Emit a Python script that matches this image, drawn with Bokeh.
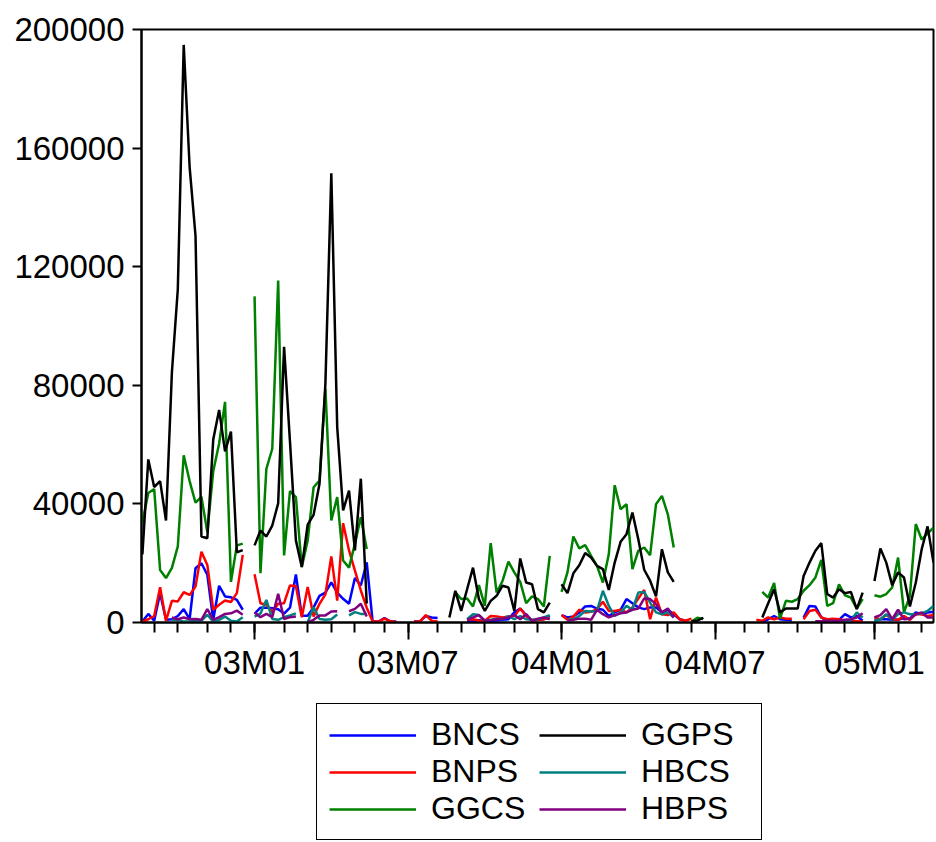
import numpy as np
import pandas as pd
from bokeh.plotting import figure
from bokeh.layouts import column
from bokeh.models import Range1d, FixedTicker, Legend, LegendItem, BasicTickFormatter
from bokeh.embed import file_html
from bokeh.resources import INLINE

# weekly observations (values in thousands), None = missing week
FIRST_WEEK = "2002-08-22"
N_WEEKS = 135
NA = None

BNCS = [0.3, 2.9, 0.6, 9.9, 0.9, 1.1, 2.2, 4.5, 1.1, 18.3, 20.0, 16.1, 0.9, 12.4, 8.8, 8.5, 7.6, 4.3,
        NA,
        3.0, 5.0, 5.0, 4.8, 4.5, 3.0, 5.0, 16.2, 2.3, 2.3, 5.1, 9.0, 10.1, 13.5, 10.1, 8.0, 6.3, 15.0, 12.5, 20.3,
        0.3, 0.3, 1.5, 0.4, 0.3,
        NA, NA,
        0.3, 0.4, 2.2, 1.7, 1.5,
        NA, NA, NA, NA,
        0.6, 0.4, 0.8, 0.6, 0.6, 0.7, 0.9, 1.1, 3.4, 4.7, 2.5, 0.6, 0.9, 1.1, 2.2,
        NA,
        2.5, 1.7, 2.0, 3.4, 5.4, 5.6, 4.7, 4.3, 2.2, 3.4, 4.3, 7.9, 6.5, 5.1, 4.5, 5.1, 5.1, 3.4, 4.3, 2.8, 1.1, 0.6,
        NA, NA, NA, NA, NA, NA, NA, NA, NA, NA, NA, NA,
        0.2, 1.1, 2.2, 1.1, 0.9, 0.7,
        NA,
        1.7, 5.6, 5.4, 1.7, 0.6, 1.1, 0.9, 2.8, 1.7, 2.2, 0.6,
        NA,
        0.6, 1.1, 1.1, 0.9, 0.9, 1.5, 1.3, 3.4, 2.8, 3.4, 3.6]

BNPS = [0.3, 1.1, 2.2, 11.9, 0.6, 7.3, 7.1, 10.2, 9.3, 12.1, 23.9, 19.4, 4.3, 6.0, 7.4, 6.9, 9.9, 22.8,
        NA,
        16.3, 6.5, 6.0, 3.5, 6.3, 6.5, 12.5, 12.3, 1.8, 12.0, 2.0, 6.3, 9.5, 22.3, 7.4, 33.5, 24.3, 17.5, 10.8, 5.0,
        0.3, 0.3, 1.3, 0.4, 0.2,
        NA, NA,
        0.3, 0.3, 2.5, 0.6, 0.3,
        NA, NA, NA, NA,
        0.9, 1.1, 0.7, 0.6, 2.2, 2.0, 1.7, 2.0, 2.2, 4.7, 2.2, 0.6, 0.8, 1.1, 1.7,
        NA,
        2.5, 0.9, 2.0, 4.3, 3.4, 3.6, 4.5, 7.0, 3.9, 3.9, 4.3, 3.4, 5.1, 8.1, 11.0, 1.1, 8.4, 2.8, 2.5, 3.4, 1.1, 0.6, 1.3,
        NA, NA, NA, NA, NA, NA, NA, NA, NA, NA,
        0.9, 0.6, 1.7, 1.1, 1.7, 1.3, 1.3,
        NA,
        1.1, 3.9, 4.3, 1.7, 1.1, 1.3, 1.1, 0.6, 0.4, 0.4, 0.3,
        NA,
        1.7, 1.1, 2.5, 1.1, 0.9, 2.2, 0.9, 2.8, 2.8, 2.2, 2.5]

GGCS = [33.7, 43.7, 45.0, 17.7, 15.0, 18.4, 25.7, 56.4, 47.7, 40.4, 42.4, 30.4, 51.0, 60.4, 74.4, 13.7, 26.0, 26.6,
        NA,
        110.0, 16.6, 51.8, 58.6, 115.3, 22.6, 44.3, 42.3, 18.7, 27.7, 45.6, 47.9, 78.9, 34.4, 42.3, 20.9, 18.5, 26.6, 35.5, 24.8,
        NA, NA, NA, NA, NA, NA, NA, NA, NA, NA, NA, NA, NA, NA,
        10.3, 7.9, 8.1, 5.4, 12.6, 5.6, 26.8, 10.1, 14.0, 20.5, 16.9, 13.7, 6.5, 8.8, 7.9, 5.4, 22.5,
        NA,
        10.3, 16.9, 29.0, 25.0, 26.1, 22.5, 19.1, 13.5, 23.0, 46.3, 38.2, 39.9, 18.0, 24.2, 25.3, 22.7, 39.9, 42.7, 36.5, 25.3,
        NA, NA,
        0.3, 1.6, 1.2,
        NA, NA, NA, NA, NA, NA, NA, NA, NA,
        10.3, 8.4, 13.3, 1.3, 7.3, 7.0, 7.9, 10.7, 12.6, 15.2, 21.1, 5.6, 6.5, 12.9, 9.2, 8.4, 4.7, 7.9,
        NA,
        9.2, 8.7, 9.6, 11.8, 21.9, 3.4, 9.0, 33.2, 28.0, 30.0, 32.0]

GGPS = [23.0, 55.0, 45.7, 47.7, 34.4, 84.4, 112.4, 194.8, 153.7, 130.4, 29.0, 28.4, 61.7, 71.7, 57.7, 64.4, 23.7, 24.4,
        NA,
        26.0, 31.0, 29.0, 32.7, 40.2, 93.0, 61.0, 27.7, 18.7, 33.0, 36.3, 46.8, 80.6, 151.5, 65.9, 37.8, 44.5, 24.3, 48.5, 6.4,
        NA, NA, NA, NA, NA, NA, NA, NA, NA, NA, NA, NA, NA,
        1.7, 10.7, 3.9, 11.2, 18.5, 7.9, 3.9, 7.3, 9.0, 12.4, 11.8, 3.9, 21.6, 13.5, 12.9, 4.5, 3.4, 6.7,
        NA,
        12.9, 9.9, 16.6, 19.3, 23.4, 21.9, 19.1, 18.0, 11.0, 20.2, 27.2, 29.8, 37.1, 28.1, 17.8, 14.1, 8.8, 24.7, 16.9, 13.7,
        NA, NA,
        0.3, 0.6, 1.6,
        NA, NA, NA, NA, NA, NA, NA, NA, NA,
        1.7, 6.5, 11.2, 3.4, 4.7, 4.7, 4.7, 15.7, 20.2, 24.2, 26.8, 9.6, 8.4, 11.2, 9.9, 10.3, 4.5, 10.1,
        NA,
        14.0, 25.0, 20.2, 12.6, 16.9, 15.2, 5.4, 13.5, 24.7, 32.4, 20.2]

HBCS = [NA, NA, NA, NA, NA,
        0.9, 0.9, 0.3, 0.3, 0.6, 0.6, 2.6, 0.3, 0.9, 2.0, 0.6, 0.3, 1.8,
        NA,
        2.0, 3.0, 7.6, 1.2, 0.9, 1.8, 2.4, 3.1, NA, 0.1, 5.2, 1.2, 0.9, 1.1, 2.7, NA, 2.4, 3.5, 2.9, 2.9,
        NA, NA, NA, NA, NA, NA, NA, NA, NA, NA, NA, NA, NA, NA, NA, NA,
        1.1, 2.8, 2.5, 0.6, 0.9, 1.3, 1.1, 2.2, 1.1, 2.2, 1.1, 0.9, 1.1, 1.7, 2.5,
        NA, NA,
        0.9, 1.1, 2.2, 3.9, 3.7, 3.9, 10.7, 5.6, 2.2, 3.4, 5.6, 4.3, 10.1, 10.3, 6.7, 3.4, 2.8, 3.4, 1.7,
        NA, NA, NA, NA, NA, NA, NA, NA, NA, NA, NA, NA, NA, NA, NA, NA, NA, NA, NA, NA, NA, NA, NA,
        0.3, 0.3, 0.4, 0.4, 0.4, 0.6, 0.6, 3.4, 1.7,
        NA,
        0.6, 1.1, 2.8, 0.9, 2.8, 3.4, 2.8, 2.8, 3.1, 3.9, 5.6]

HBPS = [NA, NA, NA, NA, NA,
        1.7, 1.1, 1.7, 1.1, 1.2, 0.9, 4.5, 0.9, 1.8, 2.9, 3.1, 4.0, 2.6,
        NA,
        3.4, 1.8, 2.9, 1.8, 9.7, 1.2, 1.8, 2.0, NA, 0.1, 0.9, 2.4, 2.4, 3.7, 3.8, NA, 3.8, 4.6, 6.3, 2.0,
        NA, NA, NA, NA, NA, NA, NA, NA, NA, NA, NA, NA, NA, NA, NA, NA,
        0.9, 1.7, 2.5, 0.6, 0.8, 1.1, 1.3, 1.7, 2.5, 1.1, 2.8, 0.6, 1.3, 1.7, 1.1,
        NA, NA,
        0.6, 0.9, 1.3, 1.3, 0.9, 4.3, 2.8, 1.7, 2.5, 3.1, 3.4, 4.3, 4.7, 8.1, 7.9, 6.2, 3.4, 4.7, 1.7,
        NA, NA, NA, NA, NA, NA, NA, NA, NA, NA, NA, NA, NA, NA, NA, NA, NA, NA, NA, NA, NA, NA, NA,
        0.4, 0.4, 0.6, 0.6, 0.6, 0.9, 1.1, 1.7, 3.1,
        NA,
        1.7, 2.5, 4.5, 1.1, 4.3, 1.1, 1.3, 2.8, 3.4, 1.7, 1.7]

SERIES = ["BNCS", "BNPS", "GGCS", "GGPS", "HBCS", "HBPS"]
COLORS = ["#0000FF", "#FF0000", "#008000", "#000000", "#008080", "#800080"]
Y_TICKS = [0, 40000, 80000, 120000, 160000, 200000]
X_TICK_LABELS = ["03M01", "03M07", "04M01", "04M07", "05M01"]

FONT = "Liberation Sans"
LW = 2.5

dates = pd.date_range(FIRST_WEEK, periods=N_WEEKS, freq="7D")
idx = np.arange(N_WEEKS)
month_starts = [i for i in range(1, N_WEEKS) if dates[i].month != dates[i - 1].month]
major = [i for i in month_starts if dates[i].month in (1, 7)]

# ---- main chart ----
p = figure(width=936, height=700,
           min_border_left=141, min_border_right=3, min_border_top=29, min_border_bottom=78,
           x_range=Range1d(-0.15, 134), y_range=Range1d(0, 200000),
           output_backend="svg", toolbar_location=None)
p.grid.visible = False
p.outline_line_color = "black"
p.outline_line_width = 2
p.outline_line_alpha = 1
p.background_fill_color = "white"
p.border_fill_color = "white"

for ax in (p.xaxis[0], p.yaxis[0]):
    ax.axis_line_width = 2
    ax.axis_line_color = "black"
    ax.major_tick_line_width = 2
    ax.minor_tick_line_width = 2
    ax.major_tick_line_color = "black"
    ax.minor_tick_line_color = "black"
    ax.major_tick_in = 0
    ax.minor_tick_in = 0
    ax.major_label_text_font = FONT
    ax.major_label_text_font_size = "33px"
    ax.major_label_text_color = "black"

p.yaxis.ticker = FixedTicker(ticks=Y_TICKS)
p.yaxis.formatter = BasicTickFormatter(use_scientific=False)
p.yaxis.major_tick_out = 9
p.yaxis.minor_tick_out = 0
p.yaxis.major_label_standoff = 8

p.xaxis.ticker = FixedTicker(ticks=major, minor_ticks=month_starts)
p.xaxis.major_label_overrides = {int(i): lab for i, lab in zip(major, X_TICK_LABELS)}
p.xaxis.major_tick_out = 17
p.xaxis.minor_tick_out = 10
p.xaxis.major_label_standoff = 4

for name, col in zip(SERIES, COLORS):
    vals = np.array([np.nan if v is None else v for v in globals()[name]], dtype=float) * 1000
    p.line(idx, vals, line_color=col, line_width=LW)

# ---- legend strip (frame aligned with the chart frame in the column) ----
q = figure(width=936, height=142, min_border=0,
           x_range=Range1d(0, 1), y_range=Range1d(0, 1),
           x_axis_type=None, y_axis_type=None,
           output_backend="svg", toolbar_location=None)
q.grid.visible = False
q.outline_line_color = None
q.background_fill_color = "white"
q.border_fill_color = "white"

items = []
for name, col in zip(SERIES, COLORS):
    r = q.line([-5, -4], [-5, -5], line_color=col, line_width=LW)  # legend key only, off-range
    items.append(LegendItem(label=name, renderers=[r]))

legend = Legend(items=items, nrows=3, location=(175, 2),
                border_line_color="black", border_line_width=1.5, border_line_alpha=1,
                label_text_font=FONT, label_text_font_size="32px", label_text_color="black",
                glyph_width=87, glyph_height=30, label_standoff=15, label_width=108,
                spacing=0, padding=12, margin=0,
                background_fill_color="white", background_fill_alpha=1)
q.add_layout(legend, "center")

open("out.html", "w").write(file_html(column(p, q, spacing=0), INLINE))
